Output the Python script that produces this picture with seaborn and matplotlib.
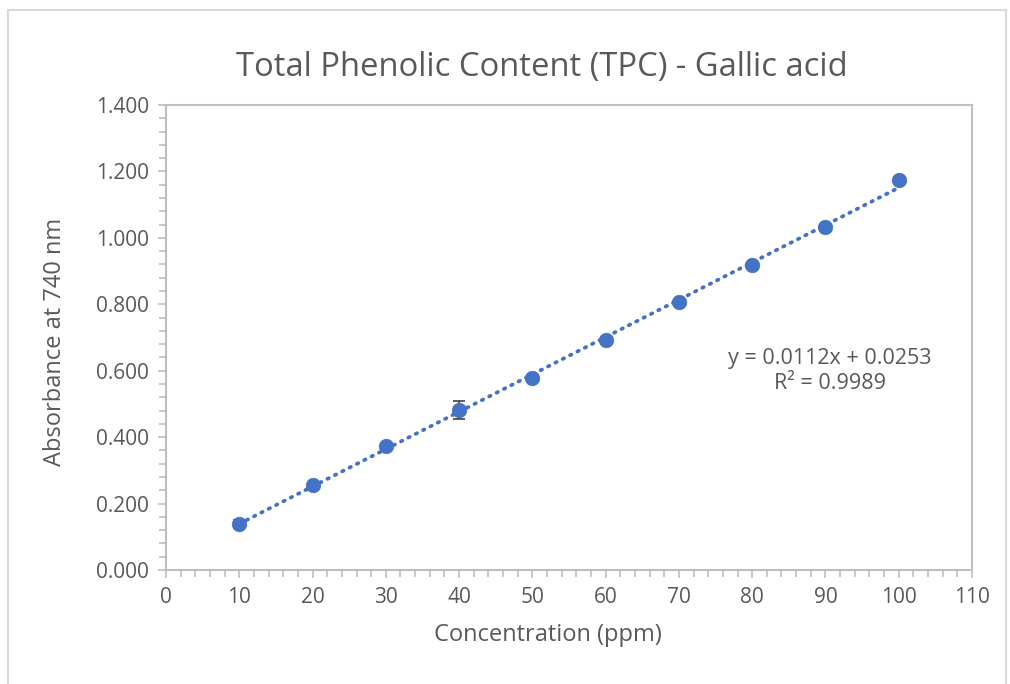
import numpy as np
import pandas as pd
import seaborn as sns
import matplotlib.pyplot as plt
from matplotlib.ticker import MultipleLocator, FormatStrFormatter
from matplotlib.patches import Rectangle

concentration = [10, 20, 30, 40, 50, 60, 70, 80, 90, 100]
absorbance = [0.140, 0.256, 0.373, 0.482, 0.577, 0.692, 0.806, 0.918, 1.032, 1.174]
abs_err = [0.012, 0.006, 0.005, 0.027, 0.006, 0.005, 0.005, 0.006, 0.008, 0.009]
equation_text = "y = 0.0112x + 0.0253\nR² = 0.9989"
title_text = "Total Phenolic Content (TPC) - Gallic acid"

sns.set_theme(style="white")
plt.rcParams['font.family'] = ['Open Sans', 'DejaVu Sans']

grey_text = "#595959"
spine_col = "#bfbfbf"
blue = "#4472C4"

fig = plt.figure(figsize=(10.1, 6.84), dpi=100)
ax = fig.add_axes([166/1010, 1 - 570/684, (972-166)/1010, (570-105)/684])

df = pd.DataFrame({"Concentration": concentration, "Absorbance": absorbance})

# trendline
slope, intercept = np.polyfit(concentration, absorbance, 1)
xs = np.array([concentration[0], concentration[-1]])
tl = pd.DataFrame({"x": xs, "y": slope * xs + intercept})
sns.lineplot(data=tl, x="x", y="y", ax=ax, color=blue, lw=2.7,
             linestyle=(0, (0.4, 1.8)), dash_capstyle="round", zorder=2)

ax.errorbar(concentration, absorbance, yerr=abs_err, fmt="none",
            ecolor="#404040", elinewidth=1.2, capsize=4.3, capthick=1.2, zorder=3)
sns.scatterplot(data=df, x="Concentration", y="Absorbance", ax=ax,
                color=blue, s=110, edgecolor=blue, linewidth=0.5, zorder=4)

ax.set_xlim(0, 110)
ax.set_ylim(0, 1.4)
ax.xaxis.set_major_locator(MultipleLocator(10))
ax.xaxis.set_minor_locator(MultipleLocator(2))
ax.yaxis.set_major_locator(MultipleLocator(0.2))
ax.yaxis.set_minor_locator(MultipleLocator(0.04))
ax.yaxis.set_major_formatter(FormatStrFormatter("%.3f"))

for s in ax.spines.values():
    s.set_visible(True)
    s.set_color(spine_col)
    s.set_linewidth(1.5)

ax.tick_params(axis="both", which="major", direction="out", length=6, width=1.2,
               color=spine_col, labelsize=15, labelcolor=grey_text, pad=6)
ax.tick_params(axis="both", which="minor", direction="out", length=5, width=1.2,
               color=spine_col)
ax.tick_params(axis="x", which="both", bottom=True)
ax.tick_params(axis="y", which="both", left=True)

ax.set_xlabel("Concentration (ppm)", fontsize=17, color=grey_text, labelpad=11, x=0.474)
ax.set_ylabel("Absorbance at 740 nm", fontsize=17, color=grey_text, labelpad=21, y=0.49)
ax.set_title(title_text, fontsize=23.6, color=grey_text, pad=21, x=0.4665)

ax.text(0.824, 0.428, equation_text, transform=ax.transAxes,
        ha="center", va="center", fontsize=15.5, color=grey_text, linespacing=1.25)

# chart border
fig.patches.append(Rectangle((8/1010, -0.01), (1006-8)/1010, 1 - 10/684 + 0.01,
                             transform=fig.transFigure, fill=False,
                             edgecolor="#d9d9d9", linewidth=1.5))

fig.savefig("out.png", dpi=100)
